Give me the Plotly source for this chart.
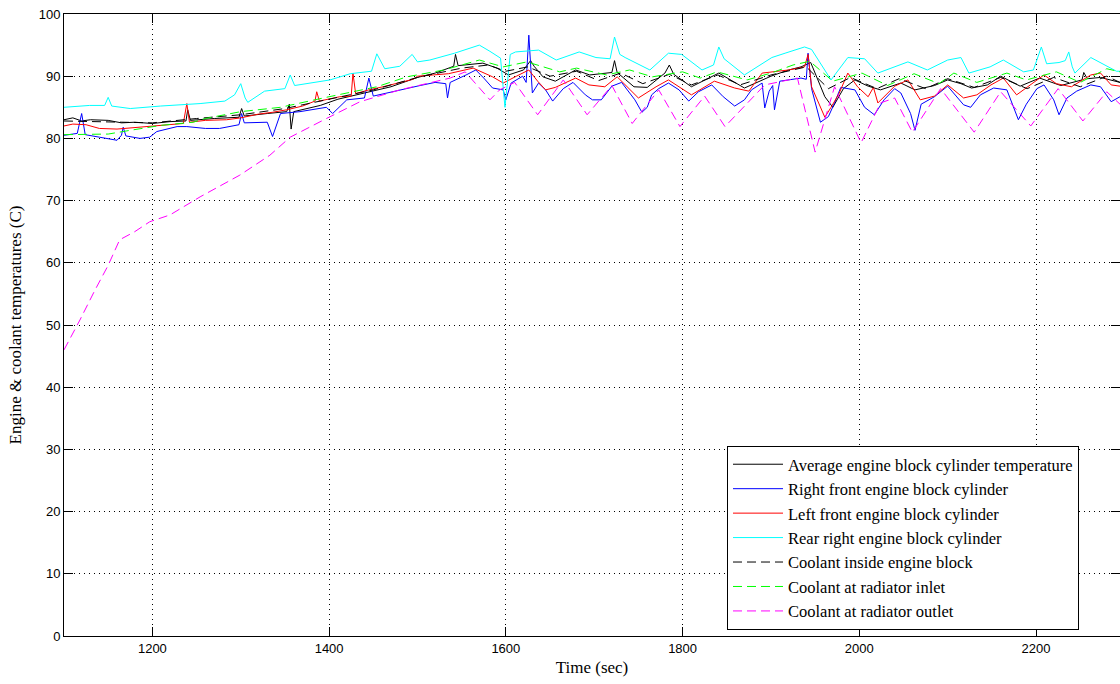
import plotly.graph_objects as go

# ---------------- data ----------------
avg_t = [1100, 1110, 1120, 1130, 1150, 1165, 1180, 1200, 1220, 1238, 1240, 1243, 1270, 1298, 1301, 1304,
         1330, 1352, 1355, 1357, 1360, 1390, 1410, 1440, 1470, 1500, 1520, 1541, 1543, 1546, 1574, 1590,
         1603, 1620, 1628, 1632, 1642, 1656, 1679, 1695, 1720, 1723, 1726, 1745, 1760, 1780, 1785, 1790,
         1810, 1841, 1870, 1900, 1920, 1934, 1945, 1961, 1970, 1982, 1995, 2010, 2024, 2047, 2063, 2085,
         2100, 2115, 2127, 2145, 2160, 2182, 2204, 2228, 2252, 2254, 2258, 2273, 2295]
avg_v = [83.0, 83.3, 82.8, 83.0, 82.9, 82.5, 82.6, 82.4, 82.7, 82.8, 84.6, 82.9, 83.2, 83.4, 84.8, 83.6,
         84.0, 84.3, 85.5, 81.5, 84.3, 85.3, 86.3, 87.3, 88.3, 89.8, 90.5, 91.6, 93.5, 91.7, 92.1, 91.3,
         90.2, 91.0, 92.5, 91.6, 89.9, 89.2, 91.0, 90.2, 90.6, 92.5, 90.6, 88.3, 88.2, 90.5, 91.8, 90.3,
         88.3, 90.5, 88.1, 90.0, 91.0, 91.5, 92.2, 86.7, 85.0, 88.0, 89.4, 88.4, 87.8, 88.9, 87.8, 88.5,
         89.4, 88.8, 88.1, 88.6, 90.0, 88.4, 89.7, 88.5, 89.4, 90.6, 89.6, 89.8, 89.0]

rf_t = [1100, 1115, 1120, 1124, 1140, 1160, 1165, 1167, 1170, 1186, 1197, 1205, 1228, 1239, 1260, 1276,
        1298, 1301, 1304, 1330, 1336, 1345, 1367, 1397, 1404, 1420, 1440, 1445, 1450, 1480, 1503, 1520,
        1532, 1534, 1537, 1555, 1566, 1575, 1585, 1597, 1600, 1606, 1619, 1623, 1626, 1630, 1637, 1645,
        1653, 1665, 1676, 1690, 1698, 1708, 1720, 1731, 1746, 1754, 1760, 1765, 1773, 1784, 1796, 1807,
        1818, 1833, 1846, 1859, 1870, 1878, 1890, 1893, 1898, 1902, 1904, 1910, 1934, 1940, 1942, 1946,
        1956, 1965, 1972, 1979, 1995, 2006, 2017, 2028, 2040, 2047, 2058, 2063, 2070, 2085, 2100, 2118,
        2126, 2137, 2152, 2167, 2175, 2180, 2189, 2201, 2209, 2220, 2226, 2235, 2246, 2262, 2273, 2285, 2295]
rf_v = [80.5, 80.8, 84.0, 80.6, 80.2, 79.7, 80.5, 81.8, 80.4, 80.0, 80.2, 81.1, 81.9, 81.9, 81.6, 81.6,
        82.2, 84.0, 82.5, 82.6, 80.3, 84.0, 84.3, 85.0, 84.0, 86.2, 86.5, 89.7, 86.8, 87.8, 88.5, 89.0,
        88.8, 86.5, 89.0, 90.2, 91.0, 89.7, 88.1, 87.8, 86.2, 88.9, 90.0, 89.0, 96.6, 87.3, 88.9, 87.8,
        86.0, 88.0, 89.0, 87.0, 86.2, 86.2, 88.4, 89.0, 86.2, 84.2, 85.0, 87.0, 88.0, 88.9, 87.8, 86.0,
        87.5, 88.6, 86.7, 85.2, 86.2, 87.8, 88.9, 84.9, 87.6, 88.5, 84.6, 89.2, 89.7, 89.5, 93.7, 88.0,
        82.6, 83.5, 85.7, 88.2, 87.8, 85.0, 83.8, 86.2, 88.0, 87.3, 84.0, 81.3, 85.5, 86.7, 88.4, 85.4,
        85.0, 87.0, 88.1, 87.8, 85.0, 83.0, 85.5, 88.0, 88.6, 86.2, 83.8, 86.5, 87.6, 88.6, 88.3, 85.9, 86.7]

lf_t = [1100, 1110, 1125, 1140, 1160, 1185, 1210, 1235, 1239, 1242, 1260, 1284, 1300, 1320, 1336, 1352,
        1370, 1384, 1386, 1389, 1412, 1425, 1427, 1430, 1445, 1461, 1495, 1500, 1535, 1563, 1585, 1597,
        1612, 1626, 1636, 1645, 1656, 1679, 1694, 1712, 1726, 1750, 1770, 1784, 1810, 1836, 1859, 1875,
        1890, 1905, 1920, 1938, 1942, 1946, 1961, 1968, 1977, 1987, 1998, 2010, 2016, 2021, 2040, 2055,
        2069, 2085, 2100, 2118, 2133, 2149, 2163, 2178, 2197, 2209, 2223, 2240, 2262, 2273, 2285, 2295]
lf_v = [82.0, 82.3, 82.2, 81.6, 81.5, 81.8, 82.1, 82.4, 85.6, 82.6, 82.9, 83.0, 83.3, 83.9, 84.2, 84.6,
        85.2, 86.0, 87.5, 86.0, 86.7, 86.8, 90.5, 87.2, 87.8, 88.3, 89.5, 90.0, 90.4, 91.3, 89.9, 88.9,
        90.0, 91.0, 89.2, 87.8, 88.2, 89.7, 88.6, 88.3, 89.9, 86.5, 88.3, 89.4, 87.0, 89.2, 88.1, 87.6,
        90.5, 90.7, 91.0, 91.5, 93.5, 88.3, 83.4, 85.0, 87.2, 90.5, 88.3, 86.7, 88.2, 85.7, 88.4, 89.4,
        86.2, 86.8, 88.6, 86.5, 87.0, 88.6, 89.7, 87.0, 88.9, 90.2, 88.8, 88.3, 90.2, 90.5, 88.6, 88.4]

rr_t = [1100, 1129, 1146, 1150, 1154, 1175, 1209, 1254, 1282, 1293, 1300, 1305, 1308, 1327, 1350, 1356,
        1361, 1401, 1424, 1448, 1454, 1463, 1480, 1494, 1500, 1514, 1542, 1570, 1582, 1594, 1599, 1605,
        1611, 1637, 1657, 1683, 1702, 1718, 1723, 1729, 1735, 1763, 1784, 1799, 1822, 1835, 1841, 1847,
        1870, 1901, 1916, 1938, 1946, 1968, 1987, 2006, 2021, 2055, 2077, 2100, 2115, 2124, 2148, 2163,
        2186, 2197, 2206, 2212, 2226, 2233, 2237, 2241, 2244, 2262, 2291, 2295]
rr_v = [85.0, 85.3, 85.3, 86.6, 85.2, 84.8, 85.2, 85.6, 86.0, 87.0, 88.8, 86.5, 85.8, 87.6, 88.0, 90.2,
        88.5, 89.4, 90.4, 90.8, 93.6, 91.2, 91.6, 93.5, 92.3, 92.6, 93.7, 95.0, 94.0, 92.9, 85.0, 93.5,
        93.9, 94.2, 92.6, 93.9, 93.0, 92.8, 96.3, 93.5, 93.0, 91.0, 93.7, 93.5, 91.0, 91.8, 94.7, 92.8,
        90.2, 93.0, 93.7, 94.7, 94.3, 89.4, 93.0, 92.8, 90.5, 92.3, 91.0, 92.6, 93.0, 90.5, 91.5, 92.6,
        90.7, 91.0, 94.7, 92.0, 92.2, 92.5, 93.9, 91.5, 90.5, 93.0, 90.8, 90.8]

cb_t = [1100, 1150, 1200, 1250, 1300, 1350, 1400, 1450, 1500, 1550, 1580, 1600, 1625, 1650, 1680, 1705,
        1730, 1755, 1785, 1810, 1840, 1865, 1900, 1940, 1965, 1990, 2020, 2045, 2075, 2100, 2130, 2160,
        2190, 2220, 2250, 2280, 2295]
cb_v = [82.8, 82.6, 82.5, 83.2, 83.8, 84.8, 86.3, 87.8, 89.8, 91.3, 91.8, 90.8, 91.5, 90.0, 90.8, 89.3,
        90.5, 88.8, 90.3, 88.6, 90.2, 88.6, 90.2, 91.5, 88.0, 89.8, 88.0, 89.6, 88.0, 89.6, 88.2, 89.8,
        88.0, 89.8, 88.3, 90.0, 89.0]

ri_t = [1100, 1150, 1175, 1210, 1246, 1260, 1300, 1345, 1400, 1454, 1488, 1530, 1570, 1597, 1624, 1661,
        1680, 1714, 1740, 1766, 1800, 1820, 1839, 1873, 1900, 1925, 1944, 1970, 2003, 2032, 2062, 2090,
        2107, 2133, 2167, 2189, 2223, 2250, 2280, 2295]
ri_v = [80.6, 80.7, 81.3, 82.1, 82.6, 83.2, 84.3, 85.0, 86.7, 88.3, 89.9, 91.0, 92.6, 91.5, 92.3, 90.7,
        91.3, 90.2, 91.0, 89.9, 90.7, 89.7, 90.7, 89.4, 90.5, 91.8, 92.4, 89.2, 90.5, 88.5, 90.4, 88.8,
        90.5, 89.0, 90.5, 89.4, 90.7, 89.0, 91.2, 90.7]

ro_t = [1100, 1118, 1135, 1150, 1163, 1180, 1197, 1220, 1254, 1299, 1333, 1356, 1397, 1435, 1480, 1537,
        1554, 1582, 1593, 1610, 1636, 1665, 1692, 1720, 1743, 1773, 1797, 1825, 1848, 1893, 1930, 1950,
        1972, 2002, 2024, 2040, 2060, 2092, 2130, 2160, 2194, 2225, 2253, 2280, 2295]
ro_v = [46.0, 50.8, 55.6, 59.6, 63.7, 65.0, 66.6, 67.7, 70.6, 74.1, 77.3, 80.2, 83.2, 85.9, 87.8, 89.7,
        90.7, 86.2, 87.8, 89.0, 83.8, 89.4, 83.8, 88.5, 82.4, 87.8, 81.9, 86.8, 81.9, 88.6, 89.7, 77.8,
        88.3, 79.3, 85.7, 86.5, 81.0, 88.0, 81.0, 87.5, 82.0, 88.0, 82.8, 87.5, 85.5]

x_ticks = [1200, 1400, 1600, 1800, 2000, 2200]
y_ticks = [0, 10, 20, 30, 40, 50, 60, 70, 80, 90, 100]

series = [
    ("Average engine block cylinder temperature", avg_t, avg_v, "#000000", "solid"),
    ("Right front engine block cylinder", rf_t, rf_v, "#0000ff", "solid"),
    ("Left front engine block cylinder", lf_t, lf_v, "#ff0000", "solid"),
    ("Rear right engine block cylinder", rr_t, rr_v, "#00ffff", "solid"),
    ("Coolant inside engine block", cb_t, cb_v, "#000000", "9px,5px"),
    ("Coolant at radiator inlet", ri_t, ri_v, "#00ff00", "9px,5px"),
    ("Coolant at radiator outlet", ro_t, ro_v, "#ff00ff", "9px,5px"),
]

# ---------------- figure ----------------
fig = go.Figure()
for name, t, v, col, dash in series:
    fig.add_trace(go.Scatter(x=t, y=v, mode="lines", name=name,
                             line=dict(color=col, width=1, dash=dash)))

serif = "Liberation Serif, Times New Roman, serif"
sans = "Liberation Sans, Arial, sans-serif"

fig.update_layout(
    width=1120, height=684,
    margin=dict(l=64, r=0, t=14, b=48),
    paper_bgcolor="white", plot_bgcolor="white",
    showlegend=True,
    legend=dict(x=(727 - 64) / 1056, y=(636 - 446) / 622, xanchor="left", yanchor="top",
                bgcolor="white", bordercolor="black", borderwidth=1,
                font=dict(family=serif, size=16.5, color="black"),
                itemwidth=50, tracegroupgap=0),
    xaxis=dict(range=[1100, 2295], tickvals=x_ticks, ticktext=[str(v) for v in x_ticks],
               showgrid=True, gridcolor="black", griddash="1px,4px", gridwidth=1,
               showline=True, linecolor="black", linewidth=1, mirror="ticks",
               ticks="inside", ticklen=9, tickcolor="black", zeroline=False,
               tickfont=dict(family=sans, size=13, color="black"),
               title=dict(text="Time (sec)", font=dict(family=serif, size=17, color="black"), standoff=6)),
    yaxis=dict(range=[0, 100], tickvals=y_ticks, ticktext=[str(v) for v in y_ticks],
               showgrid=True, gridcolor="black", griddash="1px,4px", gridwidth=1,
               showline=True, linecolor="black", linewidth=1, mirror="ticks",
               ticks="inside", ticklen=9, tickcolor="black", zeroline=False,
               tickfont=dict(family=sans, size=13, color="black"),
               title=dict(text="Engine &amp; coolant temperatures (C)",
                          font=dict(family=serif, size=17, color="black"), standoff=12)),
)

fig.write_html("out.html")
